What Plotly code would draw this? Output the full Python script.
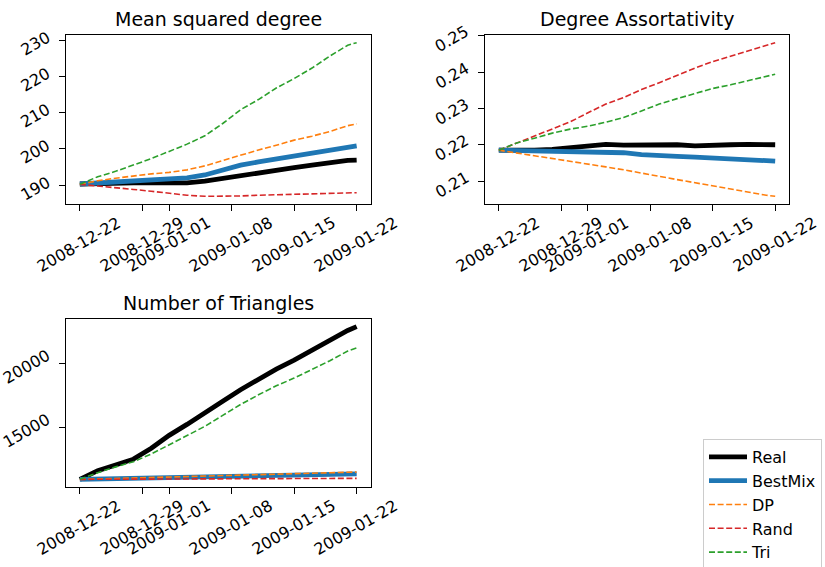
import pandas as pd
import plotly.graph_objects as go

# ---------------- data ----------------
dates = ["2008-12-22", "2008-12-24", "2008-12-26", "2008-12-28", "2008-12-30",
         "2009-01-01", "2009-01-03", "2009-01-05", "2009-01-07", "2009-01-09",
         "2009-01-11", "2009-01-13", "2009-01-15", "2009-01-17", "2009-01-19",
         "2009-01-21", "2009-01-22"]

series_names = ["Real", "BestMix", "DP", "Rand", "Tri"]

msd_real = [190.3, 190.5, 190.6, 190.6, 190.6, 190.5, 190.6, 191.1, 191.9, 192.7,
            193.5, 194.2, 194.8, 195.5, 196.2, 196.8, 196.9]
msd_bestmix = [190.3, 190.6, 190.9, 191.1, 191.4, 191.6, 192.0, 192.8, 194.2, 195.5,
               196.4, 197.2, 198.0, 198.8, 199.6, 200.5, 200.8]
msd_dp = [190.2, 191.2, 191.9, 192.6, 193.1, 193.5, 194.2, 195.3, 196.8, 198.4,
          199.7, 201.0, 202.4, 203.5, 204.8, 206.4, 206.9]
msd_rand = [190.2, 189.8, 189.3, 188.8, 188.3, 187.7, 187.2, 186.9, 186.9, 187.0,
            187.2, 187.3, 187.4, 187.6, 187.7, 187.9, 187.9]
msd_tri = [190.2, 192.3, 193.8, 195.5, 197.3, 199.3, 201.3, 203.6, 207.0, 210.8,
           213.6, 216.8, 219.4, 222.3, 225.6, 228.6, 229.3]

asr_real = [0.2185, 0.2184, 0.2185, 0.2187, 0.2192, 0.2199, 0.2201, 0.2199, 0.2200, 0.2200,
            0.2200, 0.2197, 0.2197, 0.2200, 0.2201, 0.2201, 0.2200]
asr_bestmix = [0.2185, 0.2184, 0.2184, 0.2183, 0.2182, 0.2181, 0.2180, 0.2178, 0.2173, 0.2169,
               0.2168, 0.2166, 0.2164, 0.2162, 0.2159, 0.2156, 0.2155]
asr_dp = [0.2185, 0.2177, 0.2170, 0.2162, 0.2153, 0.2146, 0.2139, 0.2131, 0.2121, 0.2113,
          0.2104, 0.2095, 0.2086, 0.2078, 0.2070, 0.2061, 0.2058]
asr_rand = [0.2185, 0.2205, 0.2225, 0.2245, 0.2263, 0.2288, 0.2312, 0.2330, 0.2352, 0.2371,
            0.2392, 0.2411, 0.2429, 0.2444, 0.2459, 0.2475, 0.2481]
asr_tri = [0.2185, 0.2205, 0.2218, 0.2232, 0.2243, 0.2251, 0.2262, 0.2275, 0.2293, 0.2312,
           0.2327, 0.2340, 0.2355, 0.2365, 0.2376, 0.2389, 0.2394]

tri_real = [10980, 11660, 12100, 12550, 13400, 14400, 15250, 16100, 17050, 17950,
            18800, 19550, 20250, 21050, 21800, 22550, 22850]
tri_bestmix = [10980, 11010, 11040, 11070, 11100, 11130, 11160, 11190, 11220, 11250,
               11280, 11300, 11330, 11350, 11380, 11400, 11410]
tri_dp = [10980, 11020, 11060, 11100, 11140, 11180, 11220, 11260, 11300, 11330,
          11370, 11400, 11440, 11470, 11510, 11540, 11550]
tri_rand = [10980, 10985, 10990, 10995, 11000, 11005, 11010, 11015, 11020, 11025,
            11030, 11035, 11040, 11045, 11050, 11055, 11060]
tri_tri = [10980, 11500, 11950, 12350, 12950, 13650, 14350, 15100, 15950, 16800,
           17550, 18250, 18850, 19500, 20200, 20950, 21200]

panel_titles = ["Mean squared degree", "Degree Assortativity", "Number of Triangles"]

x_tick_vals = ["2008-12-22", "2008-12-29", "2009-01-01", "2009-01-08", "2009-01-15", "2009-01-22"]
y1_ticks = [190, 200, 210, 220, 230]
y1_labels = ["190", "200", "210", "220", "230"]
y2_ticks = [0.21, 0.22, 0.23, 0.24, 0.25]
y2_labels = ["0.21", "0.22", "0.23", "0.24", "0.25"]
y3_ticks = [15000, 20000]
y3_labels = ["15000", "20000"]

# ---------------- styling ----------------
W, H = 825, 567
FONT = "DejaVu Sans"
colors = ["#000000", "#1f77b4", "#ff7f0e", "#d62728", "#2ca02c"]
widths = [4.8, 4.8, 1.6, 1.6, 1.6]
dashes = ["solid", "solid", "6px,2.6px", "6px,2.6px", "6px,2.6px"]

# axes boxes in pixels (left, right, top, bottom)
boxes = [(66, 370.5, 35, 204), (485, 789, 35, 204), (66, 370.5, 319, 487)]


def dom(b):
    l, r, t, btm = b
    return [l / W, r / W], [1 - btm / H, 1 - t / H]


panels = [
    [msd_real, msd_bestmix, msd_dp, msd_rand, msd_tri],
    [asr_real, asr_bestmix, asr_dp, asr_rand, asr_tri],
    [tri_real, tri_bestmix, tri_dp, tri_rand, tri_tri],
]
yticks = [(y1_ticks, y1_labels), (y2_ticks, y2_labels), (y3_ticks, y3_labels)]

fig = go.Figure()

t0 = pd.Timestamp(dates[0])
t1 = pd.Timestamp(dates[-1])
span = t1 - t0
xr = [(t0 - span * 0.05).strftime("%Y-%m-%d %H:%M:%S"),
      (t1 + span * 0.05).strftime("%Y-%m-%d %H:%M:%S")]

annotations = []
for p, data in enumerate(panels):
    suffix = "" if p == 0 else str(p + 1)
    xa, ya = "x" + suffix, "y" + suffix
    for i, name in enumerate(series_names):
        fig.add_trace(go.Scatter(
            x=dates, y=data[i], mode="lines", name=name,
            line=dict(color=colors[i], width=widths[i], dash=dashes[i]),
            showlegend=(p == 0), legendgroup=name,
            xaxis=xa, yaxis=ya, hoverinfo="skip"))
    allv = [v for s in data for v in s]
    lo, hi = min(allv), max(allv)
    pad = (hi - lo) * 0.05
    xd, yd = dom(boxes[p])
    axis_common = dict(showline=True, mirror=True, linecolor="black", linewidth=1.2,
                       ticks="outside", ticklen=5.5, tickwidth=1.2, tickcolor="black",
                       showgrid=False, zeroline=False, showticklabels=False)
    fig.layout["xaxis" + suffix] = dict(axis_common, domain=xd, range=xr, type="date",
                                        tickvals=x_tick_vals,
                                        anchor=ya)
    fig.layout["yaxis" + suffix] = dict(axis_common, domain=yd, range=[lo - pad, hi + pad],
                                        tickvals=yticks[p][0], anchor=xa)
    # title
    annotations.append(dict(text=panel_titles[p], xref="paper", yref="paper",
                            x=(xd[0] + xd[1]) / 2, y=yd[1], yshift=16,
                            xanchor="center", yanchor="middle", showarrow=False,
                            font=dict(family=FONT, size=19, color="black")))
    # x tick labels (rotated 30 deg, centred on tick like matplotlib)
    for tv in x_tick_vals:
        annotations.append(dict(text=tv, xref=xa, yref="paper", x=tv, y=yd[0],
                                yshift=-40, xshift=-1, xanchor="center", yanchor="middle",
                                textangle=-30, showarrow=False, borderpad=0,
                                font=dict(family=FONT, size=16, color="black")))
    # y tick labels
    for tv, tl in zip(*yticks[p]):
        annotations.append(dict(text=tl, xref="paper", yref=ya, x=xd[0], y=tv,
                                xshift=-11, yshift=-3, xanchor="right", yanchor="middle",
                                textangle=-30, showarrow=False, borderpad=0,
                                font=dict(family=FONT, size=16, color="black")))

fig.update_layout(
    width=W, height=H,
    margin=dict(l=0, r=0, t=0, b=0, autoexpand=False),
    paper_bgcolor="white", plot_bgcolor="white",
    font=dict(family=FONT, size=16, color="black"),
    annotations=annotations,
    legend=dict(x=703 / W, y=1 - 439 / H, xanchor="left", yanchor="top",
                bgcolor="white", bordercolor="#cccccc", borderwidth=1,
                font=dict(family=FONT, size=16, color="black"),
                itemwidth=38, traceorder="normal"),
)

fig.write_html("out.html")
